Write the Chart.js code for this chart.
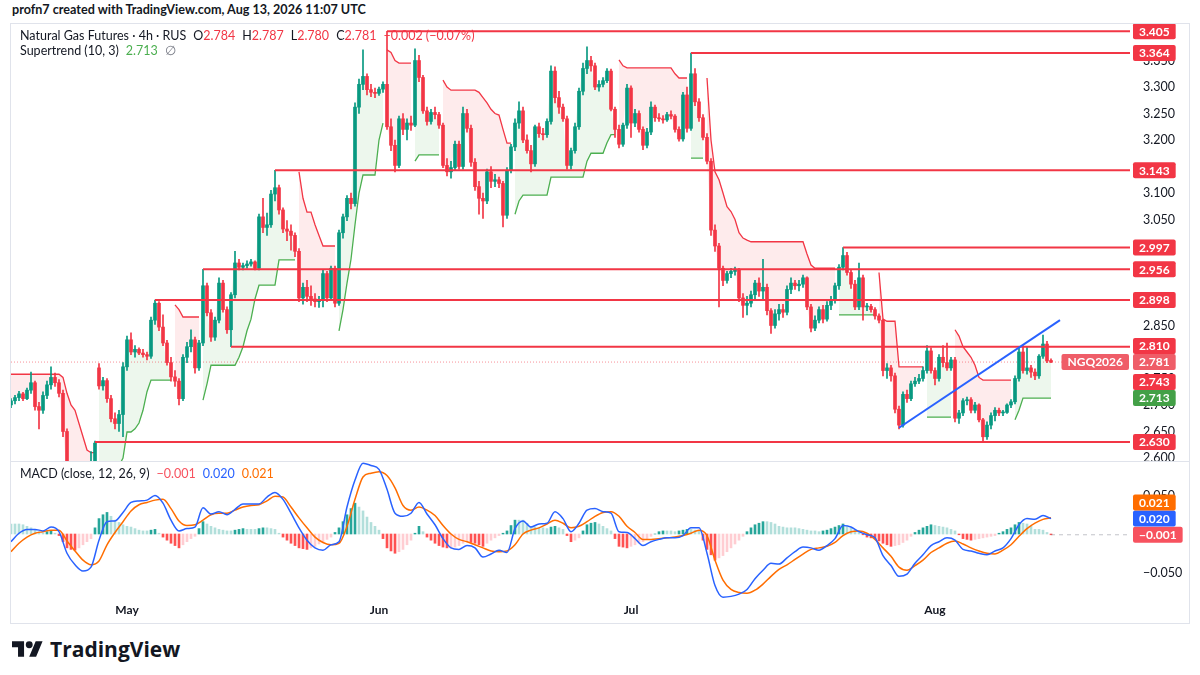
<!DOCTYPE html>
<html><head><meta charset="utf-8">
<script src="https://cdn.jsdelivr.net/npm/chart.js@4.4.1/dist/chart.umd.min.js"></script>
<style>
html,body{margin:0;padding:0;background:#fff;width:1200px;height:675px;overflow:hidden;font-family:Lato,'Open Sans',sans-serif;color:#131722}
#hdr{position:absolute;left:12px;top:2px;font-size:12.6px;font-weight:700;white-space:nowrap}
#frame{position:absolute;left:10px;top:23px;width:1178px;height:599px;border:1px solid #E0E3EB}
#pwrap{position:absolute;left:11px;top:24px;width:1178px;height:437px}
#sep{position:absolute;left:11px;top:461px;width:1178px;height:1px;background:#E0E3EB}
#mwrap{position:absolute;left:11px;top:462px;width:1178px;height:160px}
.leg{position:absolute;left:20px;font-size:12.5px;white-space:nowrap;line-height:14px}
.leg .g{margin-left:7px}
.r{color:#F23645}.gr{color:#4CAF50}.gy{color:#787B86}.bl{color:#2962FF}.or{color:#FF6D00}.rl{color:#F7525F}
#logo{position:absolute;left:12px;top:639px;height:20px;white-space:nowrap}
#logo svg{position:absolute;left:0;top:2px}
#logo span{position:absolute;left:38px;top:-4px;font-family:'Open Sans',sans-serif;font-weight:700;font-size:21px;letter-spacing:0;color:#131722}
</style></head>
<body>
<div id="hdr">profn7 created with TradingView.com, Aug 13, 2026 11:07 UTC</div>
<div id="frame"></div>
<div id="pwrap"><canvas id="pc"></canvas></div>
<div id="sep"></div>
<div id="mwrap"><canvas id="mc"></canvas></div>
<div class="leg" style="top:29px">Natural Gas Futures · 4h · RUS<span class="g">O<span class="r">2.784</span></span><span class="g">H<span class="r">2.787</span></span><span class="g">L<span class="r">2.780</span></span><span class="g">C<span class="r">2.781</span></span><span class="g r">−0.002 (−0.07%)</span></div>
<div class="leg" style="top:44px">Supertrend (10, 3)<span class="g gr">2.713</span><span class="g gy">∅</span></div>
<div class="leg" style="top:467px">MACD (close, 12, 26, 9)<span class="g rl">−0.001</span><span class="g bl">0.020</span><span class="g or">0.021</span></div>
<div id="logo"><svg width="31" height="16" viewBox="0 4 36 18"><path fill="#131722" d="M14 22H7V11H0V4h14v18zM28 22h-8l7.5-18h8L28 22z"/><circle fill="#131722" cx="20" cy="8" r="4"/></svg><span>TradingView</span></div>
<script>
// ---------- DATA ----------
const monthLabels = ['May','Jun','Jul','Aug'];
const monthIdx = [29, 92, 155, 231];
const priceTicks = [2.600,2.650,2.700,2.750,2.800,2.850,2.900,2.950,3.000,3.050,3.100,3.200,3.250,3.300,3.350,3.400];
const macdTicks = [-0.05, 0.05];

// 4h candles [open, high, low, close]
const ohlc = [
[2.700,2.712,2.695,2.708],[2.708,2.718,2.702,2.714],[2.714,2.726,2.708,2.721],[2.721,2.724,2.708,2.712],[2.712,2.732,2.710,2.728],
[2.728,2.762,2.722,2.742],[2.742,2.745,2.690,2.697],[2.697,2.705,2.655,2.690],[2.690,2.725,2.684,2.718],[2.718,2.745,2.712,2.738],
[2.738,2.772,2.730,2.752],[2.752,2.760,2.735,2.742],[2.742,2.748,2.715,2.722],[2.722,2.728,2.640,2.650],[2.650,2.655,2.560,2.570],
[2.570,2.585,2.545,2.555],[2.555,2.570,2.530,2.540],[2.540,2.560,2.520,2.548],[2.548,2.565,2.525,2.535],[2.535,2.560,2.520,2.552],
[2.552,2.612,2.540,2.580],[2.580,2.632,2.575,2.628],[2.770,2.778,2.730,2.736],[2.736,2.752,2.728,2.746],[2.746,2.750,2.705,2.712],
[2.712,2.718,2.668,2.674],[2.674,2.685,2.655,2.665],[2.665,2.690,2.650,2.682],[2.682,2.780,2.640,2.772],[2.772,2.830,2.765,2.823],
[2.823,2.836,2.795,2.800],[2.800,2.812,2.790,2.805],[2.805,2.808,2.795,2.798],[2.798,2.805,2.790,2.795],[2.795,2.800,2.785,2.792],
[2.792,2.866,2.788,2.860],[2.860,2.898,2.852,2.892],[2.892,2.895,2.840,2.847],[2.847,2.870,2.812,2.817],[2.817,2.822,2.775,2.780],
[2.780,2.790,2.745,2.753],[2.753,2.765,2.735,2.745],[2.745,2.750,2.700,2.712],[2.712,2.795,2.708,2.790],[2.790,2.818,2.780,2.810],
[2.810,2.842,2.800,2.823],[2.823,2.828,2.760,2.770],[2.770,2.822,2.765,2.817],[2.817,2.956,2.812,2.925],[2.925,2.930,2.868,2.874],
[2.874,2.880,2.820,2.828],[2.828,2.866,2.822,2.860],[2.860,2.940,2.855,2.930],[2.930,2.935,2.875,2.880],[2.880,2.885,2.835,2.842],
[2.842,2.912,2.810,2.908],[2.908,2.990,2.902,2.968],[2.968,2.975,2.955,2.960],[2.960,2.968,2.955,2.963],[2.963,2.972,2.958,2.966],
[2.966,2.975,2.962,2.970],[2.970,2.972,2.955,2.958],[2.958,3.060,2.955,3.055],[3.055,3.090,3.025,3.035],[3.035,3.062,3.020,3.040],
[3.040,3.105,3.035,3.098],[3.098,3.143,3.085,3.110],[3.110,3.115,3.060,3.068],[3.068,3.072,3.025,3.032],[3.032,3.048,3.010,3.028],
[3.028,3.040,2.992,3.020],[3.020,3.025,2.980,2.990],[2.990,2.995,2.895,2.902],[2.902,2.930,2.890,2.922],[2.922,2.935,2.895,2.905],
[2.905,2.925,2.888,2.900],[2.900,2.910,2.885,2.895],[2.895,2.905,2.884,2.898],[2.898,2.955,2.885,2.948],[2.948,2.952,2.895,2.902],
[2.902,2.962,2.898,2.958],[2.958,2.962,2.885,2.892],[2.892,3.030,2.888,3.025],[3.025,3.060,3.015,3.055],[3.055,3.095,3.048,3.090],
[3.090,3.100,3.070,3.080],[3.080,3.270,3.075,3.262],[3.262,3.315,3.250,3.305],[3.305,3.370,3.295,3.320],[3.320,3.325,3.285,3.295],
[3.295,3.305,3.282,3.290],[3.290,3.298,3.280,3.288],[3.288,3.300,3.284,3.296],[3.296,3.310,3.290,3.305],[3.305,3.405,3.220,3.225],
[3.225,3.240,3.180,3.190],[3.190,3.200,3.140,3.152],[3.152,3.245,3.148,3.240],[3.240,3.250,3.210,3.220],[3.220,3.240,3.200,3.232],
[3.232,3.245,3.218,3.228],[3.228,3.372,3.225,3.350],[3.350,3.360,3.310,3.318],[3.318,3.322,3.250,3.255],[3.255,3.262,3.228,3.235],
[3.235,3.258,3.230,3.252],[3.252,3.262,3.240,3.248],[3.248,3.252,3.222,3.228],[3.228,3.232,3.148,3.152],[3.152,3.165,3.132,3.140],
[3.140,3.160,3.128,3.148],[3.148,3.198,3.142,3.192],[3.192,3.198,3.145,3.150],[3.150,3.262,3.145,3.250],[3.250,3.258,3.215,3.222],
[3.222,3.228,3.150,3.158],[3.158,3.165,3.105,3.112],[3.112,3.122,3.060,3.090],[3.090,3.100,3.052,3.085],[3.085,3.145,3.080,3.140],
[3.140,3.150,3.110,3.122],[3.122,3.135,3.112,3.125],[3.125,3.130,3.110,3.118],[3.118,3.122,3.036,3.058],[3.058,3.148,3.052,3.143],
[3.143,3.192,3.138,3.187],[3.187,3.240,3.180,3.232],[3.232,3.272,3.222,3.255],[3.255,3.262,3.195,3.200],[3.200,3.210,3.175,3.180],
[3.180,3.190,3.140,3.155],[3.155,3.228,3.150,3.225],[3.225,3.232,3.205,3.212],[3.212,3.222,3.200,3.210],[3.210,3.240,3.205,3.235],
[3.235,3.340,3.230,3.330],[3.330,3.338,3.270,3.280],[3.280,3.292,3.250,3.262],[3.262,3.268,3.235,3.240],[3.240,3.245,3.145,3.152],
[3.152,3.185,3.145,3.180],[3.180,3.232,3.175,3.225],[3.225,3.298,3.220,3.292],[3.292,3.345,3.285,3.335],[3.335,3.376,3.325,3.350],
[3.350,3.358,3.330,3.340],[3.340,3.345,3.295,3.300],[3.300,3.312,3.292,3.305],[3.305,3.318,3.300,3.312],[3.312,3.335,3.308,3.330],
[3.330,3.334,3.255,3.258],[3.258,3.262,3.205,3.220],[3.220,3.228,3.185,3.192],[3.192,3.232,3.188,3.228],[3.228,3.305,3.222,3.298],
[3.298,3.302,3.205,3.232],[3.232,3.258,3.225,3.250],[3.250,3.255,3.215,3.220],[3.220,3.225,3.182,3.190],[3.190,3.222,3.185,3.215],
[3.215,3.272,3.210,3.262],[3.262,3.266,3.235,3.242],[3.242,3.250,3.235,3.240],[3.240,3.246,3.232,3.238],[3.238,3.252,3.235,3.248],
[3.248,3.255,3.240,3.245],[3.245,3.248,3.215,3.220],[3.220,3.225,3.198,3.202],[3.202,3.290,3.198,3.285],[3.285,3.300,3.215,3.222],
[3.222,3.364,3.218,3.325],[3.325,3.335,3.265,3.272],[3.272,3.278,3.235,3.242],[3.242,3.248,3.200,3.205],[3.205,3.212,3.155,3.160],
[3.160,3.165,3.020,3.030],[3.030,3.040,2.990,3.000],[3.000,3.005,2.885,2.958],[2.958,2.962,2.925,2.935],[2.935,2.952,2.930,2.948],
[2.948,2.958,2.940,2.952],[2.952,2.960,2.945,2.955],[2.955,2.958,2.895,2.902],[2.902,2.910,2.865,2.888],[2.888,2.905,2.870,2.892],
[2.892,2.915,2.885,2.908],[2.908,2.935,2.900,2.930],[2.930,2.940,2.905,2.915],[2.915,2.975,2.900,2.922],[2.922,2.928,2.870,2.878],
[2.878,2.882,2.835,2.850],[2.850,2.880,2.845,2.872],[2.872,2.890,2.860,2.880],[2.880,2.890,2.865,2.875],[2.875,2.925,2.870,2.918],
[2.918,2.940,2.910,2.930],[2.930,2.935,2.918,2.925],[2.925,2.935,2.915,2.928],[2.928,2.945,2.922,2.940],[2.940,2.942,2.880,2.885],
[2.885,2.890,2.838,2.845],[2.845,2.868,2.840,2.860],[2.860,2.885,2.855,2.880],[2.880,2.888,2.855,2.862],[2.862,2.895,2.858,2.888],
[2.888,2.905,2.880,2.898],[2.898,2.930,2.892,2.925],[2.925,2.965,2.918,2.960],[2.960,2.997,2.955,2.982],[2.982,2.988,2.945,2.950],
[2.950,2.955,2.920,2.928],[2.928,2.935,2.880,2.885],[2.885,2.968,2.880,2.940],[2.940,2.945,2.860,2.885],[2.885,2.892,2.878,2.886],
[2.886,2.890,2.875,2.880],[2.880,2.884,2.862,2.868],[2.868,2.872,2.855,2.860],[2.860,2.862,2.755,2.765],[2.765,2.778,2.750,2.770],
[2.770,2.775,2.745,2.755],[2.755,2.760,2.685,2.692],[2.692,2.698,2.655,2.662],[2.662,2.725,2.658,2.720],[2.720,2.728,2.705,2.712],
[2.712,2.745,2.708,2.740],[2.740,2.752,2.735,2.745],[2.745,2.758,2.740,2.750],[2.750,2.772,2.745,2.765],[2.765,2.812,2.760,2.802],
[2.802,2.808,2.760,2.765],[2.765,2.770,2.738,2.750],[2.750,2.795,2.745,2.790],[2.790,2.812,2.772,2.780],[2.780,2.817,2.765,2.770],
[2.770,2.790,2.765,2.785],[2.785,2.790,2.668,2.675],[2.675,2.690,2.665,2.685],[2.685,2.712,2.680,2.708],[2.708,2.715,2.700,2.710],
[2.710,2.714,2.685,2.690],[2.690,2.705,2.685,2.700],[2.700,2.702,2.668,2.672],[2.672,2.675,2.630,2.640],[2.640,2.668,2.635,2.662],
[2.662,2.685,2.655,2.680],[2.680,2.695,2.670,2.690],[2.690,2.694,2.680,2.685],[2.685,2.690,2.680,2.686],[2.686,2.702,2.684,2.700],
[2.700,2.710,2.695,2.706],[2.706,2.755,2.702,2.750],[2.750,2.810,2.745,2.800],[2.800,2.812,2.760,2.765],[2.765,2.810,2.758,2.770],
[2.770,2.775,2.752,2.762],[2.762,2.768,2.748,2.755],[2.755,2.795,2.750,2.792],[2.792,2.832,2.788,2.815],[2.815,2.820,2.780,2.783],
[2.784,2.787,2.780,2.781]
];

// Supertrend (10,3) value per candle and the candles where its direction flips
const stVal = [
2.758,2.758,2.758,2.758,2.758,2.758,2.758,2.758,2.758,2.758,
2.758,2.758,2.758,2.752,2.722,2.700,2.690,2.665,2.640,2.615,
2.610,2.610,2.500,2.520,2.540,2.560,2.575,2.585,2.600,2.649,
2.649,2.655,2.666,2.690,2.725,2.747,2.747,2.747,2.747,2.747,
2.747,2.889,2.880,2.866,2.866,2.866,2.866,2.866,2.709,2.740,
2.775,2.775,2.775,2.775,2.775,2.775,2.775,2.790,2.810,2.840,
2.862,2.900,2.926,2.926,2.926,2.926,2.926,2.974,2.974,2.974,
2.974,2.974,3.140,3.090,3.064,3.064,3.040,3.020,3.000,3.000,
3.000,3.000,2.840,2.880,2.930,2.975,3.040,3.100,3.134,3.134,
3.134,3.134,3.200,3.232,3.370,3.365,3.350,3.345,3.345,3.345,
3.345,3.160,3.172,3.172,3.172,3.172,3.172,3.172,3.313,3.300,
3.294,3.294,3.294,3.294,3.294,3.294,3.294,3.290,3.280,3.270,
3.258,3.250,3.247,3.220,3.194,3.194,3.060,3.085,3.096,3.096,
3.096,3.096,3.096,3.096,3.096,3.130,3.130,3.130,3.130,3.130,
3.130,3.130,3.130,3.130,3.160,3.175,3.175,3.175,3.175,3.195,
3.210,3.210,3.351,3.340,3.336,3.336,3.336,3.336,3.336,3.336,
3.336,3.336,3.336,3.336,3.336,3.336,3.325,3.317,3.317,3.317,
3.166,3.166,3.166,3.166,3.317,3.200,3.140,3.125,3.100,3.074,
3.065,3.050,3.025,3.015,3.011,3.008,3.008,3.008,3.008,3.008,
3.008,3.008,3.008,3.008,3.008,3.008,3.008,3.008,3.008,2.985,
2.964,2.958,2.958,2.958,2.958,2.958,2.958,2.870,2.870,2.870,
2.870,2.870,2.870,2.870,2.870,2.870,2.870,2.950,2.862,2.858,
2.858,2.858,2.772,2.772,2.772,2.772,2.772,2.772,2.772,2.677,
2.677,2.677,2.677,2.677,2.677,2.677,2.842,2.830,2.810,2.800,
2.790,2.775,2.752,2.747,2.747,2.747,2.747,2.747,2.747,2.747,
2.747,2.672,2.690,2.713,2.713,2.713,2.713,2.713,2.713,2.713,
2.713
];
const stFlips = [22,41,48,72,82,94,101,108,126,152,170,174,207,217,229,236,251];
const stStartDir = -1;

// MACD (12,26,9): lines sampled every 2 candles, histogram per candle
const macdLine = [
-0.010,0.001,0.006,0.006,0.004,0.009,0.003,-0.025,-0.040,-0.048,
-0.043,-0.008,0.016,0.017,0.028,0.041,0.043,0.044,0.050,0.040,
0.018,0.004,0.007,0.009,0.034,0.026,0.029,0.025,0.032,0.039,
0.039,0.039,0.048,0.054,0.045,0.027,0.008,-0.008,-0.018,-0.021,
-0.014,-0.010,0.035,0.070,0.092,0.089,0.084,0.058,0.027,0.023,
0.027,0.041,0.026,0.012,-0.006,-0.018,-0.020,-0.015,-0.018,-0.030,
-0.026,-0.021,-0.024,0.007,0.017,0.009,0.013,0.014,0.029,0.020,
0.003,0.014,0.031,0.033,0.029,0.027,0.003,0.002,-0.006,-0.015,
-0.010,-0.007,-0.005,-0.005,-0.002,0.008,0.008,-0.025,-0.067,-0.082,
-0.081,-0.078,-0.072,-0.058,-0.047,-0.038,-0.039,-0.031,-0.023,-0.017,
-0.018,-0.021,-0.015,-0.006,0.011,0.009,0.003,-0.001,-0.005,-0.028,
-0.041,-0.055,-0.052,-0.038,-0.027,-0.015,-0.010,-0.005,-0.008,-0.020,
-0.022,-0.025,-0.027,-0.022,-0.018,-0.006,0.012,0.020,0.019,0.024,
0.020];
const signalLine = [
-0.023,-0.012,-0.004,0.001,0.003,0.005,0.005,-0.009,-0.022,-0.034,
-0.040,-0.035,-0.014,0.002,0.016,0.030,0.038,0.041,0.044,0.045,
0.033,0.017,0.011,0.012,0.018,0.025,0.027,0.027,0.031,0.035,
0.037,0.038,0.043,0.049,0.048,0.035,0.021,0.008,-0.004,-0.011,
-0.014,-0.012,0.010,0.045,0.074,0.079,0.081,0.076,0.060,0.037,
0.031,0.035,0.031,0.024,0.011,0.000,-0.007,-0.010,-0.014,-0.018,
-0.022,-0.023,-0.022,-0.014,0.000,0.005,0.008,0.013,0.018,0.014,
0.008,0.010,0.016,0.023,0.028,0.029,0.023,0.010,0.002,-0.007,
-0.007,-0.006,-0.005,-0.004,-0.002,0.001,0.005,-0.002,-0.034,-0.060,
-0.072,-0.076,-0.077,-0.073,-0.065,-0.055,-0.046,-0.040,-0.033,-0.026,
-0.020,-0.018,-0.016,-0.011,-0.002,0.003,0.004,0.001,-0.007,-0.018,
-0.029,-0.043,-0.047,-0.041,-0.034,-0.024,-0.018,-0.012,-0.009,-0.013,
-0.018,-0.022,-0.025,-0.026,-0.021,-0.014,-0.003,0.007,0.014,0.019,
0.021];
const histVals = [
0.013,0.013,0.013,0.012,0.010,0.008,0.005,0.003,0.001,0.003,0.004,0.001,-0.002,-0.010,-0.018,-0.020,-0.021,-0.018,-0.014,-0.010,
-0.006,0.008,0.020,0.025,0.028,0.023,0.018,0.015,0.012,0.010,0.009,0.007,0.005,0.004,0.004,0.005,0.006,0.001,-0.004,-0.008,
-0.012,-0.015,-0.018,-0.014,-0.010,-0.006,-0.003,0.007,0.016,0.013,0.010,0.008,0.006,0.005,0.004,0.004,0.005,0.006,0.007,0.006,
0.006,0.006,0.007,0.008,0.008,0.007,0.006,0.001,-0.004,-0.008,-0.012,-0.015,-0.018,-0.019,-0.020,-0.018,-0.016,-0.013,-0.010,-0.007,
-0.004,0.002,0.008,0.016,0.025,0.033,0.040,0.035,0.030,0.022,0.015,0.010,0.005,-0.006,-0.018,-0.022,-0.025,-0.023,-0.020,-0.014,
-0.008,0.001,0.010,0.003,-0.004,-0.008,-0.012,-0.015,-0.017,-0.018,-0.018,-0.017,-0.015,-0.012,-0.010,-0.011,-0.012,-0.014,-0.016,-0.012,
-0.008,-0.005,-0.002,0.001,0.004,0.011,0.018,0.018,0.018,0.014,0.010,0.009,0.008,0.008,0.007,0.009,0.010,0.008,0.006,-0.002,
-0.010,-0.008,-0.005,0.004,0.012,0.014,0.015,0.013,0.010,0.007,0.004,-0.006,-0.016,-0.017,-0.018,-0.016,-0.014,-0.012,-0.010,-0.007,
-0.003,0.000,0.003,0.004,0.004,0.004,0.003,0.004,0.005,0.006,0.006,0.005,0.004,-0.008,-0.020,-0.027,-0.034,-0.031,-0.028,-0.023,
-0.018,-0.013,-0.008,-0.003,0.003,0.008,0.012,0.014,0.016,0.016,0.015,0.013,0.010,0.009,0.008,0.008,0.008,0.007,0.006,0.005,
0.004,0.004,0.003,0.004,0.005,0.007,0.009,0.011,0.013,0.011,0.008,0.005,0.002,-0.001,-0.004,-0.005,-0.006,-0.009,-0.012,-0.014,
-0.016,-0.015,-0.014,-0.011,-0.008,-0.003,0.002,0.005,0.008,0.010,0.012,0.011,0.010,0.009,0.008,0.006,0.004,-0.001,-0.006,-0.007,
-0.008,-0.007,-0.006,-0.005,-0.004,-0.003,-0.002,0.001,0.003,0.006,0.008,0.012,0.015,0.014,0.013,0.010,0.006,0.006,0.005,0.002,
-0.001];

// Horizontal levels and the candle each one starts from
const levelVals  = [3.405, 3.364, 3.143, 2.997, 2.956, 2.898, 2.810, 2.630];
const levelStart = [94, 170, 66, 208, 48, 36, 55, 21];
// Rising trend line (candle index, price)
const trendX = [222, 262.25];
const trendY = [2.657, 2.860];
const lastPrice = 2.781;
const symbolName = 'NGQ2026';
const extraTag = 2.743;
const macdLast = 0.020, signalLast = 0.021, histLast = -0.001;

// ---------- STYLE / BUILD ----------
const UP = '#089981', DN = '#F23645';
const N = ohlc.length;
const X_MIN = 0, X_MAX = 279.75;
const FONT = 'Lato, "Open Sans", sans-serif';

let d = stStartDir, fi = 0;
const stDir = ohlc.map((_, i) => { if (fi < stFlips.length && i === stFlips[fi]) { d = -d; fi++; } return d; });
const candleColor = ohlc.map(c => c[3] >= c[0] ? UP : DN);

function rr(ctx, x, y, w, h, r) {
  ctx.beginPath();
  ctx.moveTo(x + r, y); ctx.lineTo(x + w - r, y); ctx.quadraticCurveTo(x + w, y, x + w, y + r);
  ctx.lineTo(x + w, y + h - r); ctx.quadraticCurveTo(x + w, y + h, x + w - r, y + h);
  ctx.lineTo(x + r, y + h); ctx.quadraticCurveTo(x, y + h, x, y + h - r);
  ctx.lineTo(x, y + r); ctx.quadraticCurveTo(x, y, x + r, y); ctx.closePath();
}
function makeTagPlugin(items) {
  return {
    id: 'tags',
    afterDraw(chart) {
      const { ctx, chartArea, scales } = chart;
      const ys = scales.y;
      ctx.save();
      ctx.font = 'bold 12px ' + FONT;
      ctx.textAlign = 'center'; ctx.textBaseline = 'middle';
      const list = items.map(t => Object.assign({}, t, { py: ys.getPixelForValue(t.v) })).sort((a, b) => b.py - a.py);
      for (let j = 1; j < list.length; j++) list[j].py = Math.min(list[j].py, list[j - 1].py - 16);
      list.forEach(t => {
        const w = ctx.measureText(t.txt).width + 12;
        const x0 = chartArea.right + 3;
        ctx.fillStyle = t.bg; rr(ctx, x0, t.py - 8, w, 16, 2); ctx.fill();
        ctx.fillStyle = '#fff'; ctx.fillText(t.txt, x0 + w / 2, t.py + 0.5);
        if (t.name) {
          const w2 = ctx.measureText(t.name).width + 12;
          const x1 = chartArea.right - w2 - 1;
          ctx.fillStyle = t.bg; rr(ctx, x1, t.py - 8, w2, 16, 2); ctx.fill();
          ctx.fillStyle = '#fff'; ctx.fillText(t.name, x1 + w2 / 2, t.py + 0.5);
        }
      });
      ctx.restore();
    }
  };
}
const fmt = v => (v < 0 ? '−' : '') + Math.abs(v).toFixed(3);

// ---------- PRICE CHART ----------
const priceTags = levelVals.map(v => ({ v, txt: fmt(v), bg: '#F23645' }))
  .concat([{ v: lastPrice, txt: fmt(lastPrice), bg: '#EF5D68', name: symbolName },
           { v: extraTag, txt: fmt(extraTag), bg: '#F23645' },
           { v: stVal[N - 1], txt: fmt(stVal[N - 1]), bg: '#43A047' }]);

const priceDatasets = [
  { type: 'line', data: ohlc.map((c, i) => ({ x: i, y: c[3] })), borderColor: 'rgba(0,0,0,0)', borderWidth: 1, pointRadius: 0, fill: false, order: 20 },
  { type: 'line', data: stVal.map((v, i) => ({ x: i, y: stDir[i] > 0 ? v : null })), borderColor: '#4CAF50', borderWidth: 1.3, pointRadius: 0, spanGaps: false,
    fill: { target: 0, above: 'rgba(76,175,80,0.10)', below: 'rgba(76,175,80,0.10)' }, order: 19 },
  { type: 'line', data: stVal.map((v, i) => ({ x: i, y: stDir[i] < 0 ? v : null })), borderColor: '#F23645', borderWidth: 1.3, pointRadius: 0, spanGaps: false,
    fill: { target: 0, above: 'rgba(242,54,69,0.10)', below: 'rgba(242,54,69,0.10)' }, order: 18 },
  { type: 'line', data: [{ x: X_MIN, y: lastPrice }, { x: X_MAX, y: lastPrice }], borderColor: 'rgba(242,54,69,0.55)', borderDash: [1, 2], borderWidth: 1, pointRadius: 0, fill: false, order: 17 },
  { type: 'bar', data: ohlc.map((c, i) => ({ x: i, y: [c[2], c[1]] })), backgroundColor: candleColor, barThickness: 1, grouped: false, order: 10 },
  { type: 'bar', data: ohlc.map((c, i) => ({ x: i, y: [c[0], c[3]] })), backgroundColor: candleColor, barThickness: 3, minBarLength: 1, grouped: false, order: 9 }
];
levelVals.forEach((v, j) => priceDatasets.push({
  type: 'line', data: [{ x: levelStart[j], y: v }, { x: X_MAX, y: v }], borderColor: '#F23645', borderWidth: 2, pointRadius: 0, fill: false, order: 3
}));
priceDatasets.push({ type: 'line', data: trendX.map((x, j) => ({ x, y: trendY[j] })), borderColor: '#2962FF', borderWidth: 2, pointRadius: 0, fill: false, order: 2 });

new Chart(document.getElementById('pc'), {
  type: 'bar',
  data: { datasets: priceDatasets },
  options: {
    responsive: true, maintainAspectRatio: false, animation: false, events: [],
    layout: { padding: 0, autoPadding: false },
    plugins: { legend: { display: false }, tooltip: { enabled: false } },
    scales: {
      x: { type: 'linear', min: X_MIN, max: X_MAX, offset: false, display: false, grid: { display: false } },
      y: { position: 'right', min: 2.5943, max: 3.4189,
           afterBuildTicks: s => { s.ticks = priceTicks.map(v => ({ value: v })); },
           afterFit: s => { s.width = 59; s.paddingTop = 0; s.paddingBottom = 0; },
           grid: { display: false, drawTicks: false }, border: { display: false },
           ticks: { padding: 13, color: '#131722', font: { family: FONT, size: 12.5 }, callback: v => fmt(v) } }
    }
  },
  plugins: [makeTagPlugin(priceTags)]
});

// ---------- MACD CHART ----------
const histColor = histVals.map((h, i) => {
  const p = i > 0 ? histVals[i - 1] : h;
  if (h >= 0) return h > p ? '#26A69A' : '#B2DFDB';
  return h < p ? '#FF5252' : '#FFCDD2';
});
const macdTags = [
  { v: signalLast, txt: fmt(signalLast), bg: '#FF6D00' },
  { v: macdLast, txt: fmt(macdLast), bg: '#2962FF' },
  { v: histLast, txt: fmt(histLast), bg: '#F7525F' }
];
new Chart(document.getElementById('mc'), {
  type: 'bar',
  data: { datasets: [
    { type: 'bar', data: histVals.map((v, i) => ({ x: i, y: v })), backgroundColor: histColor, barThickness: 2, grouped: false, order: 10 },
    { type: 'line', data: [{ x: N - 1, y: histLast }, { x: X_MAX, y: histLast }], borderColor: 'rgba(120,123,134,0.45)', borderDash: [4, 4], borderWidth: 1, pointRadius: 0, fill: false, order: 9 },
    { type: 'line', data: signalLine.map((v, k) => ({ x: 2 * k, y: v })), borderColor: '#FF6D00', borderWidth: 1.5, pointRadius: 0, cubicInterpolationMode: 'monotone', fill: false, order: 2 },
    { type: 'line', data: macdLine.map((v, k) => ({ x: 2 * k, y: v })), borderColor: '#2962FF', borderWidth: 1.5, pointRadius: 0, cubicInterpolationMode: 'monotone', fill: false, order: 1 }
  ] },
  options: {
    responsive: true, maintainAspectRatio: false, animation: false, events: [],
    layout: { padding: 0, autoPadding: false },
    plugins: { legend: { display: false }, tooltip: { enabled: false } },
    scales: {
      x: { type: 'linear', min: X_MIN, max: X_MAX, offset: false,
           afterBuildTicks: s => { s.ticks = monthIdx.map(v => ({ value: v })); },
           afterFit: s => { s.height = 24; s.paddingLeft = 0; s.paddingRight = 0; },
           grid: { display: false, drawTicks: false }, border: { display: false },
           ticks: { autoSkip: false, maxRotation: 0, padding: 5, color: '#131722', font: { family: FONT, size: 12, weight: 'bold' },
                    callback: (v, i) => monthLabels[i] } },
      y: { position: 'right', min: -0.0831, max: 0.0935,
           afterBuildTicks: s => { s.ticks = macdTicks.map(v => ({ value: v })); },
           afterFit: s => { s.width = 59; s.paddingTop = 0; s.paddingBottom = 0; },
           grid: { display: false, drawTicks: false }, border: { display: false },
           ticks: { padding: 13, color: '#131722', font: { family: FONT, size: 12.5 }, callback: v => fmt(v) } }
    }
  },
  plugins: [makeTagPlugin(macdTags)]
});
</script>
</body></html>
